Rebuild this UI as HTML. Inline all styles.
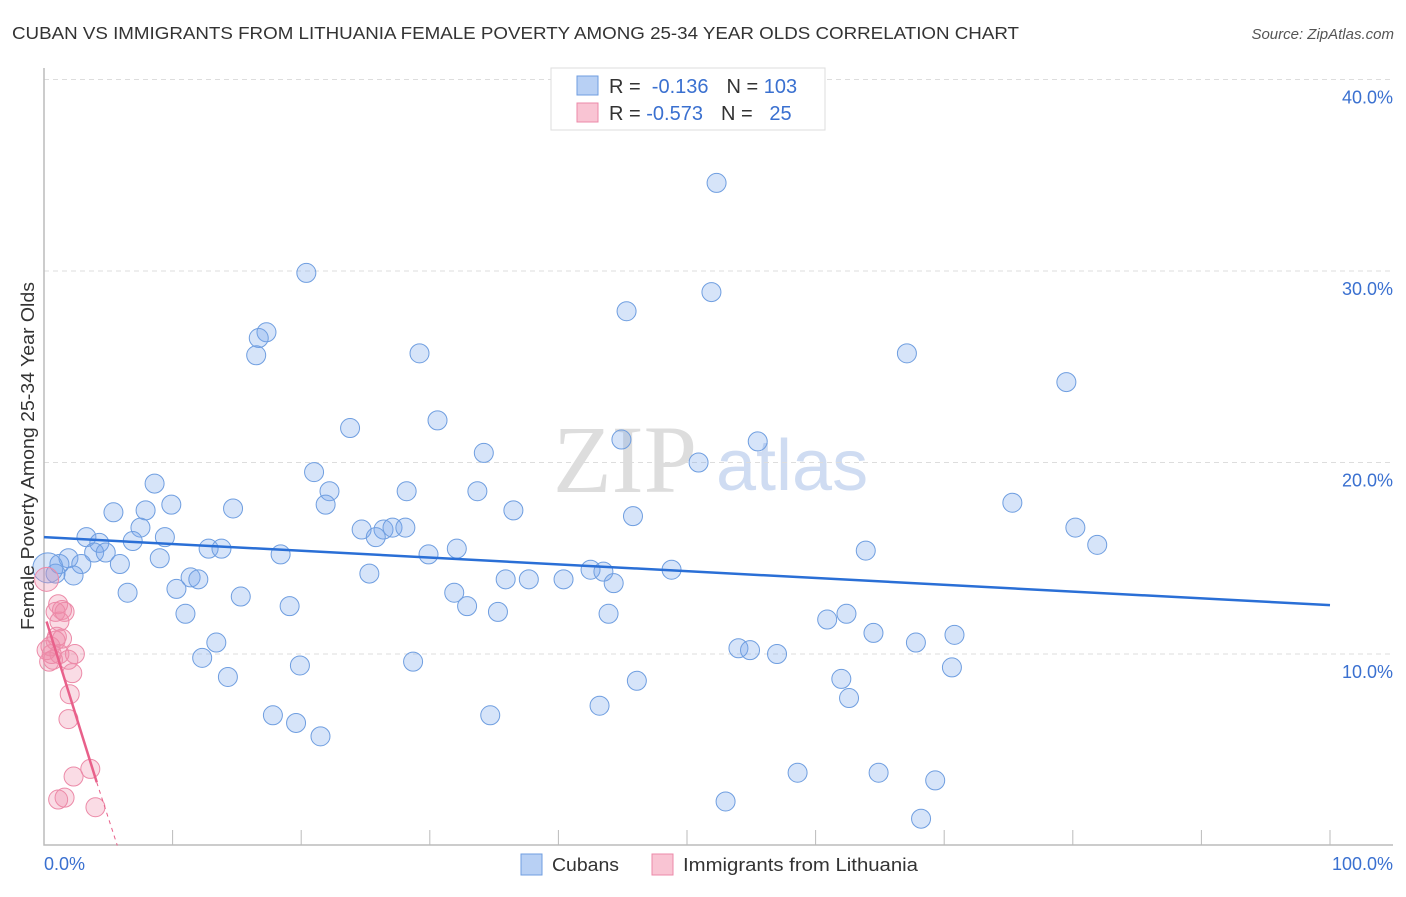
<!DOCTYPE html>
<html><head><meta charset="utf-8"><style>
body{margin:0;background:#fff;font-family:"Liberation Sans",sans-serif}
</style></head><body>
<svg id="c" width="1406" height="892" xmlns="http://www.w3.org/2000/svg">
<text x="12" y="39" font-size="17.5" fill="#333" textLength="1007" lengthAdjust="spacingAndGlyphs">CUBAN VS IMMIGRANTS FROM LITHUANIA FEMALE POVERTY AMONG 25-34 YEAR OLDS CORRELATION CHART</text>
<text x="1394" y="39" font-size="15" fill="#555" font-style="italic" text-anchor="end">Source: ZipAtlas.com</text>
<g>
<text x="553" y="492" font-size="96" font-family="Liberation Serif,serif" fill="#ddd">ZIP</text>
<text x="716" y="490" font-size="72" fill="#cfdcf2">atlas</text>
</g>
<g id="grid"></g><g id="ticks"></g><g id="pts"></g><g id="lines"></g>
<text transform="translate(34,456) rotate(-90)" font-size="18" fill="#333" text-anchor="middle" textLength="348" lengthAdjust="spacingAndGlyphs">Female Poverty Among 25-34 Year Olds</text>
<g>
<rect x="551" y="68" width="274" height="62" fill="#fff" stroke="#ddd"/>
<rect x="577" y="76" width="21" height="19" fill="#b8d0f4" stroke="#6f9ee0"/>
<rect x="577" y="103" width="21" height="19" fill="#f9c4d3" stroke="#ec8aa8"/>
<text x="609" y="93" font-size="20" fill="#333">R = <tspan fill="#3a70d0">&#160;-0.136</tspan><tspan dx="18">N = </tspan><tspan fill="#3a70d0">103</tspan></text>
<text x="609" y="120" font-size="20" fill="#333">R = <tspan fill="#3a70d0">-0.573</tspan><tspan dx="18">N = </tspan><tspan fill="#3a70d0">&#160;&#160;25</tspan></text>
</g>
<g>
<rect x="521" y="854" width="21" height="21" fill="#b8d0f4" stroke="#6f9ee0"/>
<text x="552" y="871" font-size="18" fill="#333" textLength="67" lengthAdjust="spacingAndGlyphs">Cubans</text>
<rect x="652" y="854" width="21" height="21" fill="#f9c4d3" stroke="#ec8aa8"/>
<text x="683" y="871" font-size="18" fill="#333" textLength="235" lengthAdjust="spacingAndGlyphs">Immigrants from Lithuania</text>
</g>
</svg>
<script>
const cubanX=[52.3,20.4,51.9,45.3,17.3,16.7,16.5,29.2,67.1,79.5,30.6,23.8,44.9,55.5,34.2,50.9,21.0,8.6,22.2,28.2,33.7,9.9,21.9,5.4,7.9,14.7,36.5,75.3,45.8,7.5,24.7,26.4,27.1,28.1,80.2,3.3,9.4,25.8,4.3,81.9,6.9,12.8,13.8,3.9,4.8,18.4,32.1,29.9,63.9,1.9,1.2,2.9,5.9,9.0,0.9,2.3,11.4,12.0,25.3,35.9,37.7,40.4,42.5,43.5,48.8,44.3,10.3,6.5,15.3,31.9,19.1,32.9,35.3,11.0,43.9,60.9,62.4,64.5,70.8,67.8,13.4,54.0,54.9,57.0,12.3,19.9,28.7,70.6,14.3,46.1,62.0,62.6,43.2,17.8,19.6,34.7,21.5,58.6,64.9,69.3,53.0,68.2,0.3];
const cubanY=[34.6,29.9,28.9,27.9,26.8,26.5,25.6,25.7,25.7,24.2,22.2,21.8,21.2,21.1,20.5,20.0,19.5,18.9,18.5,18.5,18.5,17.8,17.8,17.4,17.5,17.6,17.5,17.9,17.2,16.6,16.5,16.5,16.6,16.6,16.6,16.1,16.1,16.1,15.8,15.7,15.9,15.5,15.5,15.3,15.3,15.2,15.5,15.2,15.4,15.0,14.7,14.7,14.7,15.0,14.2,14.1,14.0,13.9,14.2,13.9,13.9,13.9,14.4,14.3,14.4,13.7,13.4,13.2,13.0,13.2,12.5,12.5,12.2,12.1,12.1,11.8,12.1,11.1,11.0,10.6,10.6,10.3,10.2,10.0,9.8,9.4,9.6,9.3,8.8,8.6,8.7,7.7,7.3,6.8,6.4,6.8,5.7,3.8,3.8,3.4,2.3,1.4,14.5];
const lithX=[0.2,1.1,1.4,0.9,1.2,1.0,1.4,0.5,0.6,0.7,1.2,2.4,1.9,2.2,2.0,1.9,2.3,3.6,1.6,1.1,4.0,0.4,0.2,1.6,0.9];
const lithY=[13.9,12.6,12.3,12.2,11.7,10.9,10.8,10.4,10.0,9.7,10.0,10.0,9.7,9.0,7.9,6.6,3.6,4.0,2.5,2.4,2.0,9.6,10.2,12.2,10.7];
const yTicks=[10,20,30,40];
const yTickLabels=["10.0%","20.0%","30.0%","40.0%"];
const cubanTrend=[[0,16.1],[100,12.55]];
const lithTrend=[[0.2,11.7],[4.1,3.3]];
const lithTrendExt=[[4.1,3.3],[5.7,0]];
const X=v=>44+v*12.86, Y=v=>845.5-v*19.15;
const NS="http://www.w3.org/2000/svg";
function mk(t,a,p){const e=document.createElementNS(NS,t);for(const k in a)e.setAttribute(k,a[k]);p.appendChild(e);return e;}
const g=document.getElementById('grid'),tk=document.getElementById('ticks'),pts=document.getElementById('pts'),ln=document.getElementById('lines');
yTicks.forEach((t,i)=>{const l=mk('line',{x1:44,x2:1393,y1:Y(t),y2:Y(t),stroke:'#ddd','stroke-dasharray':'5,4'},g);


const tx=mk('text',{x:1393,y:Y(t)+24,'font-size':18,fill:'#3a70d0','text-anchor':'end'},g);tx.textContent=yTickLabels[i];

});
const ax=mk('path',{d:'M44,68V845H1393',fill:'none',stroke:'#bbb','stroke-width':1.5},tk);


for(let i=1;i<=10;i++){const t=mk('line',{x1:X(i*10),x2:X(i*10),y1:830,y2:845,stroke:'#bbb'},tk);

}
const x0=mk('text',{x:44,y:870,'font-size':18,fill:'#3a70d0'},tk);x0.textContent='0.0%';


const x1=mk('text',{x:1393,y:870,'font-size':18,fill:'#3a70d0','text-anchor':'end'},tk);x1.textContent='100.0%';


cubanX.forEach((v,i)=>{const c=mk('circle',{cx:X(v),cy:Y(cubanY[i]),r:i==cubanX.length-1?15:9.5,fill:'rgba(120,165,235,0.3)',stroke:'#6f9ee0','stroke-width':1},pts);

});
lithX.forEach((v,i)=>{const c=mk('circle',{cx:X(v),cy:Y(lithY[i]),r:i==0?12:9.5,fill:'rgba(240,140,170,0.3)',stroke:'#ec8aa8','stroke-width':1},pts);

});
const b=mk('line',{x1:X(cubanTrend[0][0]),y1:Y(cubanTrend[0][1]),x2:X(cubanTrend[1][0]),y2:Y(cubanTrend[1][1]),stroke:'#2a6fd6','stroke-width':2.5},ln);


const p=mk('line',{x1:X(lithTrend[0][0]),y1:Y(lithTrend[0][1]),x2:X(lithTrend[1][0]),y2:Y(lithTrend[1][1]),stroke:'#e8608a','stroke-width':2.5},ln);


const pd=mk('line',{x1:X(lithTrendExt[0][0]),y1:Y(lithTrendExt[0][1]),x2:X(lithTrendExt[1][0]),y2:Y(lithTrendExt[1][1]),stroke:'#e8608a','stroke-width':1,'stroke-dasharray':'4,4'},ln);


</script>
</body></html>
